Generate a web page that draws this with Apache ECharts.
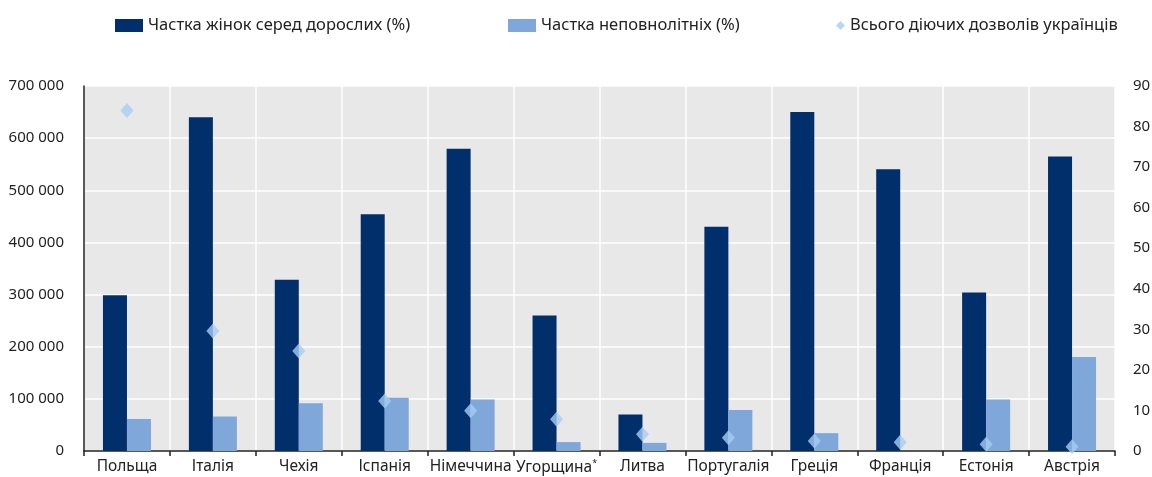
<!DOCTYPE html>
<html><head><meta charset="utf-8">
<script src="https://cdn.jsdelivr.net/npm/echarts@6/dist/echarts.min.js"></script>
<style>html,body{margin:0;padding:0;background:#fff}#c{width:1152px;height:477px}</style>
</head><body><div id="c"></div>
<script>
const categories = ['Польща','Італія','Чехія','Іспанія','Німеччина','Угорщина','Литва','Португалія','Греція','Франція','Естонія','Австрія'];
const womenShare = [38.4, 82.3, 42.2, 58.4, 74.5, 33.4, 9.0, 55.3, 83.6, 69.5, 39.1, 72.6];
const minorsShare = [7.9, 8.5, 11.8, 13.1, 12.7, 2.2, 2.0, 10.1, 4.4, 0, 12.7, 23.2];
const totalPermits = [653000, 230000, 192000, 96000, 77000, 61000, 32000, 25500, 19000, 17000, 13000, 8300];
const leftTicks = [0, 100000, 200000, 300000, 400000, 500000, 600000, 700000];
const rightTicks = [0, 10, 20, 30, 40, 50, 60, 70, 80, 90];
const names = ['Частка жінок серед дорослих (%)', 'Частка неповнолітніх (%)', 'Всього діючих дозволів українців'];

const FONT = '"Noto Sans", sans-serif';
const chart = echarts.init(document.getElementById('c'), null, {renderer: 'canvas'});
const legendBase = {top: 12, itemWidth: 28, itemHeight: 13, textStyle: {fontFamily: FONT, fontSize: 16.5, color: '#222'}, selectedMode: false, itemGap: 8};
chart.setOption({
  animation: false,
  legend: [
    Object.assign({}, legendBase, {left: 110, data: [{name: names[0], icon: 'rect'}]}),
    Object.assign({}, legendBase, {left: 503, data: [{name: names[1], icon: 'rect'}]}),
    Object.assign({}, legendBase, {left: 831, itemWidth: 9, itemHeight: 9, data: [{name: names[2], icon: 'diamond'}]})
  ],
  grid: {left: 84, right: 37, top: 86, bottom: 26, show: true, backgroundColor: '#e8e8e8', borderWidth: 0, containLabel: false, outerBoundsMode: 'none'},
  xAxis: {
    type: 'category', data: categories,
    axisLine: {show: true, lineStyle: {color: '#222', width: 1.5}},
    axisTick: {show: true, length: 5, lineStyle: {color: '#222', width: 1.5}},
    splitLine: {show: true, lineStyle: {color: '#fff', width: 1.5}},
    axisLabel: {fontFamily: FONT, fontSize: 15.5, color: '#222', margin: 8, interval: 0,
      formatter: v => v === 'Угорщина' ? '{a|Угорщина}{s|*}' : v,
      rich: {a: {fontFamily: FONT, fontSize: 15.5, color: '#222'}, s: {fontSize: 9, color: '#222', verticalAlign: 'top', padding: [0,0,8,0]}}}
  },
  yAxis: [
    {type: 'value', min: leftTicks[0], max: leftTicks[leftTicks.length - 1], interval: 100000, position: 'left',
      axisLine: {show: true, lineStyle: {color: '#222', width: 1.5}},
      axisTick: {show: false},
      splitLine: {show: true, lineStyle: {color: '#fff', width: 1.5}},
      axisLabel: {fontFamily: FONT, fontSize: 15, color: '#222', margin: 20,
        formatter: v => String(v).replace(/\B(?=(\d{3})+(?!\d))/g, ' ')}},
    {type: 'value', min: rightTicks[0], max: rightTicks[rightTicks.length - 1], interval: 10, position: 'right',
      axisLine: {show: false}, axisTick: {show: false}, splitLine: {show: false},
      axisLabel: {fontFamily: FONT, fontSize: 15, color: '#222', margin: 18}}
  ],
  series: [
    {name: names[0], type: 'bar', yAxisIndex: 1, data: womenShare, barWidth: 24, barGap: '0%', itemStyle: {color: '#002f6c'}},
    {name: names[1], type: 'bar', yAxisIndex: 1, data: minorsShare, barWidth: 24, barGap: '0%', itemStyle: {color: '#7fa7da'}},
    {name: names[2], type: 'scatter', yAxisIndex: 0, data: totalPermits, symbol: 'diamond', symbolSize: [13, 15], z: 5, itemStyle: {color: '#a6cdf2'}}
  ]
});
</script></body></html>
